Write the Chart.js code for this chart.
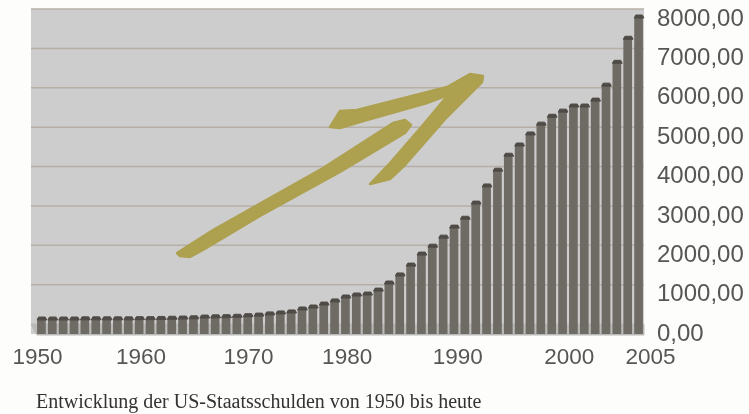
<!DOCTYPE html>
<html>
<head>
<meta charset="utf-8">
<title>US-Staatsschulden</title>
<script src="https://cdn.jsdelivr.net/npm/chart.js@4"></script>
<style>
  html, body { margin: 0; padding: 0; background: #fdfdfb; }
  #wrap { position: relative; width: 749px; height: 414px; overflow: hidden; filter: blur(0.5px); }
  #caption { position: absolute; left: 36px; top: 390px; font: 20px "Liberation Serif", serif; color: #333; white-space: nowrap; }
</style>
</head>
<body>
<div id="wrap">
  <canvas id="debt-chart" width="749" height="414"></canvas>
  <div id="caption">Entwicklung der US-Staatsschulden von 1950 bis heute</div>
</div>
<script>
// years on the axis and debt values
const years = [1950,1951,1952,1953,1954,1955,1956,1957,1958,1959,
  1960,1961,1962,1963,1964,1965,1966,1967,1968,1969,
  1970,1971,1972,1973,1974,1975,1976,1977,1978,1979,
  1980,1981,1982,1983,1984,1985,1986,1987,1988,1989,
  1990,1991,1992,1993,1994,1995,1996,1997,1998,1999,
  2000,2001,2002,2003,2004,2005];
const debt = [380,380,380,380,385,385,385,385,385,390,
  390,395,400,405,410,430,435,440,450,465,
  480,510,535,560,635,685,760,840,940,990,
  1015,1115,1295,1500,1750,2030,2230,2460,2715,2940,
  3325,3760,4160,4540,4800,5080,5330,5530,5660,5790,
  5790,5940,6320,6900,7510,8050];
const shownYears = [1950,1960,1970,1980,1990,2000,2005];
const labelNudge = { 1950:-4, 1960:-9, 1970:-10, 1980:-20, 1990:-18, 2000:-15, 2005:12 };
const gridValues = [1000,2000,3000,4000,5000,6000,7000,8000];

// hand drawn arrow on top of the chart
const arrowShaft = [[177,253],[213,230],[323,168],[393,123],[405,120],[411,125],[405,133],[340,172],[260,216],[203,250],[190,257],[180,256]];
const arrowHead = [[330,127],[340,111],[357,110],[447,87],[470,74],[483,76],[482,82],[447,117],[405,165],[390,179],[370,184],[390,163],[423,125],[448,95],[427,103],[360,122],[340,128]];

const depth = 10;
const wallLeft = 31;
const labelFont = '22.5px "Liberation Sans", sans-serif';

function fillPoly(ctx, pts, color, lineWidth) {
  ctx.fillStyle = color;
  ctx.strokeStyle = color;
  ctx.lineWidth = lineWidth;
  ctx.lineJoin = 'round';
  ctx.beginPath();
  pts.forEach((p, i) => i ? ctx.lineTo(p[0], p[1]) : ctx.moveTo(p[0], p[1]));
  ctx.closePath();
  ctx.fill();
  ctx.stroke();
}

// back wall, floor and gridlines of the fake 3d box
const wallPlugin = {
  id: 'wall',
  beforeDatasetsDraw(chart) {
    const { ctx, chartArea, scales } = chart;
    const y0 = scales.y.getPixelForValue(0);
    const top = scales.y.getPixelForValue(8000) - depth;
    ctx.save();
    ctx.fillStyle = '#cdcdcd';
    ctx.fillRect(wallLeft, top, chartArea.right - wallLeft, y0 - top);
    fillPoly(ctx, [[wallLeft, y0 - depth], [chartArea.right, y0 - depth], [chartArea.right, y0 + 1], [wallLeft + 6, y0 + 1]], '#b9b9b7', 1);
    ctx.strokeStyle = '#b6afa6';
    ctx.lineWidth = 1.5;
    gridValues.forEach(v => {
      const py = scales.y.getPixelForValue(v) - depth;
      ctx.beginPath();
      ctx.moveTo(wallLeft, py);
      ctx.lineTo(chartArea.right, py);
      ctx.stroke();
    });
    ctx.restore();
  }
};

// caps on the bars, year labels and the arrow
const overlayPlugin = {
  id: 'overlay',
  afterDatasetsDraw(chart) {
    const { ctx, scales } = chart;
    ctx.save();
    chart.getDatasetMeta(0).data.forEach(bar => {
      const w = bar.width;
      fillPoly(ctx, [
        [bar.x - w / 2, bar.y + 1],
        [bar.x - w / 2 + 1.5, bar.y - 2],
        [bar.x + w / 2 - 0.5, bar.y - 2],
        [bar.x + w / 2 + 1, bar.y + 1]
      ], '#4f4b46', 1);
    });
    fillPoly(ctx, arrowShaft, '#ada04f', 2.5);
    fillPoly(ctx, arrowHead, '#ada04f', 2.5);
    ctx.fillStyle = '#565656';
    ctx.font = labelFont;
    ctx.textAlign = 'center';
    ctx.textBaseline = 'middle';
    shownYears.forEach(year => {
      ctx.fillText(String(year), scales.x.getPixelForValue(String(year)) + labelNudge[year], 358);
    });
    ctx.restore();
  }
};

const ctx = document.getElementById('debt-chart');

new Chart(ctx, {
  type: 'bar',
  data: {
    labels: years.map(String),
    datasets: [{
      label: 'US-Staatsschulden',
      data: debt,
      clip: false,
      barPercentage: 0.8,
      categoryPercentage: 1,
      borderWidth: 0,
      backgroundColor(context) {
        const el = context.element;
        if (!el || !el.width) return '#6e6a64';
        const g = context.chart.ctx.createLinearGradient(el.x - el.width / 2, 0, el.x + el.width / 2, 0);
        g.addColorStop(0, '#4d4a45');
        g.addColorStop(0.5, '#7b7770');
        g.addColorStop(1, '#55514c');
        return g;
      }
    }]
  },
  options: {
    responsive: false,
    animation: false,
    layout: { padding: { top: 19, left: 36, bottom: 80 } },
    plugins: { legend: { display: false }, tooltip: { enabled: false } },
    scales: {
      x: {
        display: false,
        offset: true,
        grid: { display: false }
      },
      y: {
        position: 'right',
        min: 0,
        max: 8000,
        afterFit(scale) {
          scale.width = 105;
          scale.paddingTop = 0;
          scale.paddingBottom = 0;
        },
        grid: { display: false, drawTicks: false },
        border: { display: false },
        ticks: {
          stepSize: 1000,
          padding: 13,
          color: '#565656',
          font: { family: '"Liberation Sans", sans-serif', size: 24 },
          callback: v => v.toFixed(2).replace('.', ',')
        }
      }
    }
  },
  plugins: [wallPlugin, overlayPlugin]
});
</script>
</body>
</html>
